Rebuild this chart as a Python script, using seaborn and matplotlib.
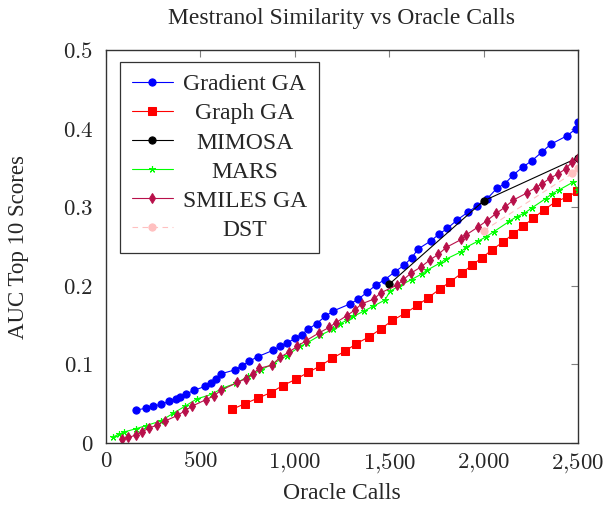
import matplotlib
matplotlib.use("Agg")
import matplotlib.pyplot as plt
import seaborn as sns
import numpy as np

# ---------------- data ----------------
grad_x = [157,210,250,291,334,371,392,422,466,524,555,583,608,683,719,759,805,886,922,957,1001,1037,1072,1116,1160,1204,1293,1336,1384,1430,1478,1531,1578,1620,1654,1720,1765,1808,1861,1919,1967,2020,2070,2113,2157,2207,2255,2308,2355,2443,2490,2500]
grad_y = [.042,.044,.047,.049,.053,.056,.059,.062,.067,.072,.076,.082,.088,.093,.098,.104,.110,.118,.123,.127,.133,.138,.145,.152,.161,.168,.177,.183,.192,.201,.208,.218,.226,.236,.247,.257,.266,.273,.284,.294,.302,.311,.324,.330,.341,.351,.359,.370,.380,.391,.400,.408]

graph_x = [669,736,803,872,936,1005,1072,1134,1199,1268,1323,1393,1455,1517,1584,1649,1707,1769,1822,1884,1937,1993,2046,2104,2157,2210,2263,2322,2382,2443,2496]
graph_y = [.043,.050,.057,.064,.073,.081,.090,.098,.108,.117,.126,.135,.145,.156,.165,.175,.185,.196,.205,.216,.226,.236,.246,.256,.266,.276,.286,.297,.307,.313,.320]

mimosa_x = [1500, 2000, 2500]
mimosa_y = [.202, .308, .363]

mars_x = [39,69,95,157,210,290,357,420,480,560,618,689,754,821,886,957,1028,1063,1134,1204,1240,1275,1310,1367,1416,1478,1504,1554,1619,1672,1702,1769,1801,1879,1907,1972,2011,2055,2136,2175,2214,2255,2329,2361,2400,2475,2500]
mars_y = [.008,.011,.014,.018,.022,.028,.038,.047,.056,.062,.070,.076,.085,.093,.101,.111,.123,.127,.137,.145,.152,.156,.161,.168,.174,.182,.193,.200,.208,.215,.220,.229,.234,.243,.249,.257,.262,.269,.282,.288,.292,.299,.311,.317,.322,.332,.322]

smiles_x = [86,118,157,189,229,272,313,378,418,457,528,572,608,696,740,777,812,878,922,971,1013,1058,1128,1181,1217,1275,1317,1354,1418,1455,1542,1571,1615,1668,1716,1760,1803,1882,1909,1972,2018,2066,2113,2157,2228,2276,2311,2352,2392,2436,2470,2500]
smiles_y = [.005,.007,.010,.014,.019,.023,.028,.035,.041,.047,.055,.060,.067,.077,.082,.088,.095,.099,.109,.116,.123,.130,.140,.147,.153,.162,.169,.177,.183,.191,.201,.207,.216,.224,.233,.240,.249,.259,.265,.275,.283,.292,.300,.309,.318,.325,.330,.337,.342,.349,.358,.362]

dst_x = [2000, 2470, 2500]
dst_y = [.270, .343, .350]

x_ticks = [0, 500, 1000, 1500, 2000, 2500]
x_tick_labels = ["$0$", "$500$", "$1{,}000$", "$1{,}500$", "$2{,}000$", "$2{,}500$"]
y_ticks = [0, 0.1, 0.2, 0.3, 0.4, 0.5]
y_tick_labels = ["$0$", "$0.1$", "$0.2$", "$0.3$", "$0.4$", "$0.5$"]

# ---------------- style ----------------
sns.set_style("white")
plt.rcParams['font.family'] = ['Liberation Serif', 'DejaVu Serif']
plt.rcParams['mathtext.fontset'] = 'cm'

fig = plt.figure(figsize=(6.08, 5.07), dpi=100)
ax = fig.add_axes([106/608, 1-443/507, (578-106)/608, (443-50)/507])

TFS = 17
lw = 0.8

sns.lineplot(x=grad_x, y=grad_y, ax=ax, color="#0000FF", marker="o", markersize=5.2,
             markeredgecolor="#0000FF", linewidth=lw, sort=False, label="Gradient GA")
sns.lineplot(x=graph_x, y=graph_y, ax=ax, color="#FF0000", marker="s", markersize=5.2,
             markeredgecolor="#FF0000", linewidth=lw, sort=False, label="Graph GA")
sns.lineplot(x=mimosa_x, y=mimosa_y, ax=ax, color="black", marker="o", markersize=5.2,
             markeredgecolor="black", linewidth=lw, sort=False, label="MIMOSA")
sns.lineplot(x=mars_x, y=mars_y, ax=ax, color="#00FF00", marker=(5, 2, 0), markersize=5,
             markeredgecolor="#00FF00", markeredgewidth=0.8, linewidth=lw, sort=False, label="MARS")
sns.lineplot(x=smiles_x, y=smiles_y, ax=ax, color="#B8104A", marker="d", markersize=4.6,
             markeredgecolor="#B8104A", linewidth=lw, sort=False, label="SMILES GA")
sns.lineplot(x=dst_x, y=dst_y, ax=ax, color="#FFC0C0", marker="o", markersize=5.2,
             markeredgecolor="#FFC0C0", linewidth=lw, linestyle=(0, (5, 4)), sort=False, label="DST")

ax.set_xlim(0, 2500)
ax.set_ylim(0, 0.5)
ax.set_xticks(x_ticks)
ax.set_xticklabels(x_tick_labels)
ax.set_yticks(y_ticks)
ax.set_yticklabels(y_tick_labels)
ax.tick_params(axis="both", which="both", direction="in", length=5, width=0.8,
               color="#808080", labelsize=16.5, top=True, right=True, pad=6)
ax.tick_params(axis="y", pad=9)
for s in ax.spines.values():
    s.set_color("#333333")
    s.set_linewidth(1.0)

ax.set_title("Mestranol Similarity vs Oracle Calls", fontsize=TFS, pad=19)
ax.set_xlabel("Oracle Calls", fontsize=TFS, labelpad=6)
ax.set_ylabel("AUC Top 10 Scores", fontsize=16.5, labelpad=24)

leg = ax.legend(loc="upper left", bbox_to_anchor=(14/472, 1-12/393), fontsize=17, frameon=True,
                fancybox=False, edgecolor="#333333", framealpha=1, handlelength=1.75,
                handletextpad=0.4, borderpad=0.5, labelspacing=0.32, borderaxespad=0)
leg.get_frame().set_linewidth(0.9)

# center legend labels within their column
fig.canvas.draw()
r = fig.canvas.get_renderer()
texts = leg.get_texts()
ws = [t.get_window_extent(r).width for t in texts]
W = max(ws)
for t, w in zip(texts, ws):
    t.set_position(((W - w) / 2, 0))

fig.savefig("out.png", dpi=100)
